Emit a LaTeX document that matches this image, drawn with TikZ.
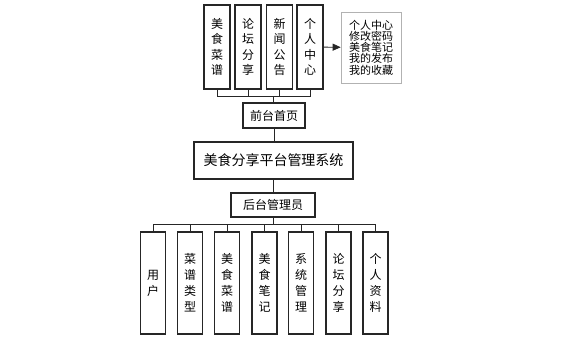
\documentclass[tikz,border=0pt]{standalone}
\usepackage{fontspec}
\setmainfont{Noto Sans CJK SC}
\usetikzlibrary{arrows.meta,shadows}

\begin{document}
\begin{tikzpicture}[
    x=1pt, y=-1pt,
    box/.style={draw=black!85, line width=1.2pt, inner sep=0pt, align=center},
    colbox/.style={box, minimum width=26pt, minimum height=84pt,
      font=\fontsize{12}{15.5}\selectfont},
    lowbox/.style={box, minimum width=25pt, minimum height=102pt,
      font=\fontsize{12}{16}\selectfont},
    notebox/.style={draw=black!30, line width=0.6pt, fill=white,
      minimum width=60pt, minimum height=71pt, inner sep=0pt,
      align=left, font=\fontsize{11}{11.2}\selectfont,
      drop shadow={opacity=0.2, shadow xshift=1.2pt, shadow yshift=-1.2pt}},
    link/.style={black!85, line width=0.8pt},
  ]
\useasboundingbox (0,0) rectangle (574,341);

% Front end: four columns joined on one bus above the home page
\node[colbox] (cai)   at (217,47)   {美\\食\\菜\\谱};
\node[colbox] (luntan) at (248,47)  {论\\坛\\分\\享};
\node[colbox] (xinwen) at (279.5,47) {新\\闻\\公\\告};
\node[colbox] (geren) at (310,47)   {个\\人\\中\\心};
\node[notebox] (gerenlist) at (371,47.5)
  {个人中心\\修改密码\\美食笔记\\我的发布\\我的收藏};
\draw[link, -{Triangle[length=8pt,width=7pt]}] (geren) -- (gerenlist);

\node[box, minimum width=62pt, minimum height=25pt,
  font=\fontsize{12}{14}\selectfont] (front) at (274,115.5) {前台首页};
\coordinate (topbus) at (273,96);
\foreach \n in {cai,luntan,xinwen,geren}
  \draw[link] (\n.south) |- (topbus);
\draw[link] (topbus) -- (topbus |- front.north);

% System and back end
\node[box, minimum width=159pt, minimum height=37pt,
  font=\fontsize{14}{16}\selectfont] (system) at (273.5,160.5)
  {美食分享平台管理系统};
\node[box, minimum width=84pt, minimum height=24pt,
  font=\fontsize{12}{14}\selectfont] (back) at (273,205) {后台管理员};
\draw[link] (front.south) -- (front.south |- system.north);
\draw[link] (back.north |- system.south) -- (back.north);

% Back-end modules
\node[lowbox] (yonghu) at (153,283)   {用\\户};
\node[lowbox] (leixing) at (190,283)  {菜\\谱\\类\\型};
\node[lowbox] (caipu) at (227,283)    {美\\食\\菜\\谱};
\node[lowbox] (biji) at (264.5,283)   {美\\食\\笔\\记};
\node[lowbox] (guanli) at (301,283)   {系\\统\\管\\理};
\node[lowbox] (fenxiang) at (338.5,283) {论\\坛\\分\\享};
\node[lowbox] (ziliao) at (375.5,283) {个\\人\\资\\料};
\coordinate (lowbus) at (273,224);
\draw[link] (back.south) -- (lowbus);
\foreach \n in {yonghu,leixing,caipu,biji,guanli,fenxiang,ziliao}
  \draw[link] (\n.north) |- (lowbus);

\end{tikzpicture}
\end{document}
